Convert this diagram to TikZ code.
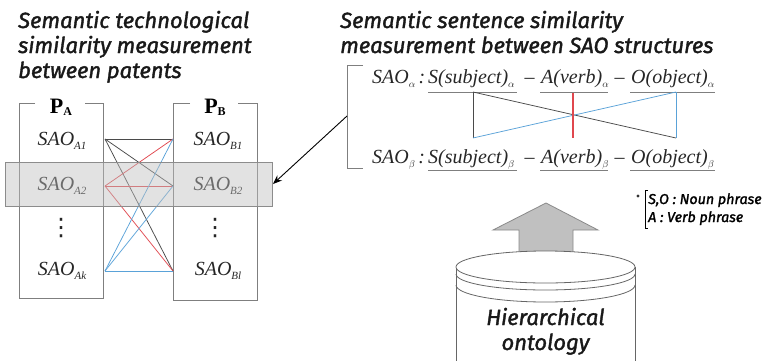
\documentclass[tikz,border=0pt]{standalone}
\usepackage{fontspec}
\setmainfont{Liberation Serif}
\newfontfamily\hfont{Fira Sans}[FakeBold=1.6]
\newfontfamily\dvfont{DejaVu Sans}
\usetikzlibrary{arrows.meta}
\definecolor{boxgray}{HTML}{7F7F7F}
\definecolor{lnk}{HTML}{4A4A4A}
\definecolor{lred}{HTML}{E0474E}
\definecolor{lblue}{HTML}{5AA2D8}
\definecolor{arrfill}{HTML}{C0C0C0}
\definecolor{arrdraw}{HTML}{8A8A8A}
\newcommand\sbt[1]{\raisebox{-0.45ex}{\fontsize{11}{11}\selectfont\itshape #1}}
\newcommand\sbb[1]{\raisebox{-0.5ex}{\fontsize{10}{10}\selectfont\itshape #1}}
\tikzset{
  ttl/.style={anchor=base west, inner sep=0pt, font=\hfont\itshape\fontsize{22}{24}\selectfont, text=black!90},
  sao/.style={anchor=base, inner sep=0pt, font=\fontsize{20}{20}\selectfont\itshape, text=black!85},
  frm/.style={anchor=base west, inner sep=0pt, font=\fontsize{20}{20}\selectfont\itshape, text=black!85},
  pbox/.style={draw=boxgray, line width=0.9pt},
  uline/.style={draw=boxgray, line width=0.9pt},
  dk/.style={draw=lnk, line width=0.75pt},
  rd/.style={draw=lred, line width=0.75pt},
  bl/.style={draw=lblue, line width=0.75pt},
  note/.style={anchor=base west, inner sep=0pt, font=\hfont\itshape\fontsize{14.3}{16}\selectfont},
  cyl/.style={draw=black!60, line width=0.8pt},
  vdt/.style={inner sep=0pt, font=\dvfont\fontsize{24}{24}\selectfont, text=black!85},
}
\begin{document}
\begin{tikzpicture}[x=1pt,y=-1pt]
\useasboundingbox (0,0) rectangle (766,360);

% titles
\node[ttl] (tl1) at (18,28) {Semantic technological};
\node[ttl] (tl2) at (18,53) {similarity measurement};
\node[ttl] (tl3) at (18,78) {between patents};
\node[ttl] (tr1) at (340,28) {Semantic sentence similarity};
\node[ttl] (tr2) at (340,53) {measurement between SAO structures};

% patent boxes
\draw[pbox] (35,103) -- (19,103) -- (19,298) -- (103,298) -- (103,103) -- (85,103);
\draw[pbox] (190,103) -- (173,103) -- (173,300) -- (257,300) -- (257,103) -- (238,103);
\node[anchor=base, inner sep=0pt, font=\bfseries\fontsize{22}{22}\selectfont] (pa) at (61,113) {P\raisebox{-0.2ex}{\fontsize{12}{12}\selectfont A}};
\node[anchor=base, inner sep=0pt, font=\bfseries\fontsize{22}{22}\selectfont] (pb) at (215,113) {P\raisebox{-0.2ex}{\fontsize{12}{12}\selectfont B}};

\node[sao] (a1) at (62,145) {SAO\sbt{A1}};
\node[sao] (a2) at (62,190) {SAO\sbt{A2}};
\node[vdt] (ad) at (61,228) {⋮};
\node[sao] (ak) at (62,275) {SAO\sbt{Ak}};
\node[sao] (b1) at (218,145) {SAO\sbt{B1}};
\node[sao] (b2) at (218,190) {SAO\sbt{B2}};
\node[vdt] (bd) at (215,228) {⋮};
\node[sao] (bk) at (218,275) {SAO\sbt{Bl}};

\coordinate (pa1) at (105,139);
\coordinate (pa2) at (105,186);
\coordinate (pak) at (105,271);
\coordinate (pb1) at (173,139);
\coordinate (pb2) at (173,186);
\coordinate (pbk) at (173,271);
\draw[dk] (pa1) -- (pb1); \draw[dk] (pa1) -- (pb2); \draw[dk] (pa1) -- (pbk);
\draw[rd] (pa2) -- (pb1); \draw[rd] (pa2) -- (pb2); \draw[rd] (pa2) -- (pbk);
\draw[bl] (pak) -- (pb1); \draw[bl] (pak) -- (pb2); \draw[bl] (pak) -- (pbk);

% grey band
\path[fill=black!25, fill opacity=0.45, draw=black!45, line width=0.7pt] (5,162) rectangle (272,206);
\coordinate (bandtip) at (273,184);

% SAO structures
\draw[pbox] (363,65) -- (347,65) -- (347,168) -- (363,168);
\coordinate (brk) at (347,116);
\draw[line width=0.9pt, -{Stealth[length=9pt,width=7pt]}] (brk) -- (bandtip);

\node[frm] (sa) at (372,83) {SAO\sbb{$\alpha$}\,:};
\node[frm] (ssa) at (428,83) {S(subject)\sbb{$\alpha$}};
\node[frm] (m1a) at (521,83) {\upshape\,–};
\node[frm] (aa) at (541,83) {A(verb)\sbb{$\alpha$}};
\node[frm] (m2a) at (611,83) {\upshape\,–};
\node[frm] (oa) at (631,83) {O(object)\sbb{$\alpha$}};

\node[frm] (sb) at (372,163) {SAO\sbb{$\beta$}\,:};
\node[frm] (ssb) at (428,163) {S(subject)\sbb{$\beta$}};
\node[frm] (m1b) at (521,163) {\upshape\,–};
\node[frm] (ab) at (541,163) {A(verb)\sbb{$\beta$}};
\node[frm] (m2b) at (611,163) {\upshape\,–};
\node[frm] (ob) at (631,163) {O(object)\sbb{$\beta$}};

\draw[uline] (428,92) -- (517,92);
\draw[uline] (540,92) -- (608,92);
\draw[uline] (630,92) -- (715,92);
\draw[uline] (428,170) -- (517,170);
\draw[uline] (540,170) -- (608,170);
\draw[uline] (630,170) -- (715,170);

\coordinate (sTop) at (473,92); \coordinate (sBot) at (473,138);
\coordinate (aTop) at (573,93); \coordinate (aBot) at (573,138);
\coordinate (oTop) at (676,92); \coordinate (oBot) at (676,138);
\draw[dk] (sTop) -- (sBot);
\draw[dk] (sTop) -- (oBot);
\draw[bl] (oTop) -- (oBot);
\draw[bl] (oTop) -- (sBot);
\draw[rd, line width=1.1pt] (aTop) -- (aBot);

% note
\fill[black!80] (638,196) circle (1.6);
\draw[line width=0.8pt] (648,190) -- (645,190) -- (645,228) -- (648,228);
\node[note] (n1) at (648,204) {S,O : Noun phrase};
\node[note] (n2) at (648,222) {A : Verb phrase};

% big arrow
\draw[fill=arrfill, draw=arrdraw, line width=0.8pt] (546,203) -- (598,230) -- (573,230) -- (573,262) -- (519,262) -- (519,230) -- (493,230) -- cycle;

% cylinder
\fill[white] (456,267) rectangle (635,375);
\draw[cyl] (456,267) -- (456,375);
\draw[cyl] (635,267) -- (635,375);
\draw[cyl, fill=white] (545.5,267) ellipse [x radius=89.5, y radius=16];
\draw[cyl] (456,274) arc[start angle=180, end angle=0, x radius=89.5, y radius=16];
\draw[cyl] (456,285) arc[start angle=180, end angle=0, x radius=89.5, y radius=17];
\node[anchor=base, inner sep=0pt, font=\hfont\itshape\fontsize{22}{22}\selectfont, text=black!90] (h1) at (545.5,325) {Hierarchical};
\node[anchor=base, inner sep=0pt, font=\hfont\itshape\fontsize{22}{22}\selectfont, text=black!90] (h2) at (545.5,350) {ontology};
\end{tikzpicture}
\end{document}
